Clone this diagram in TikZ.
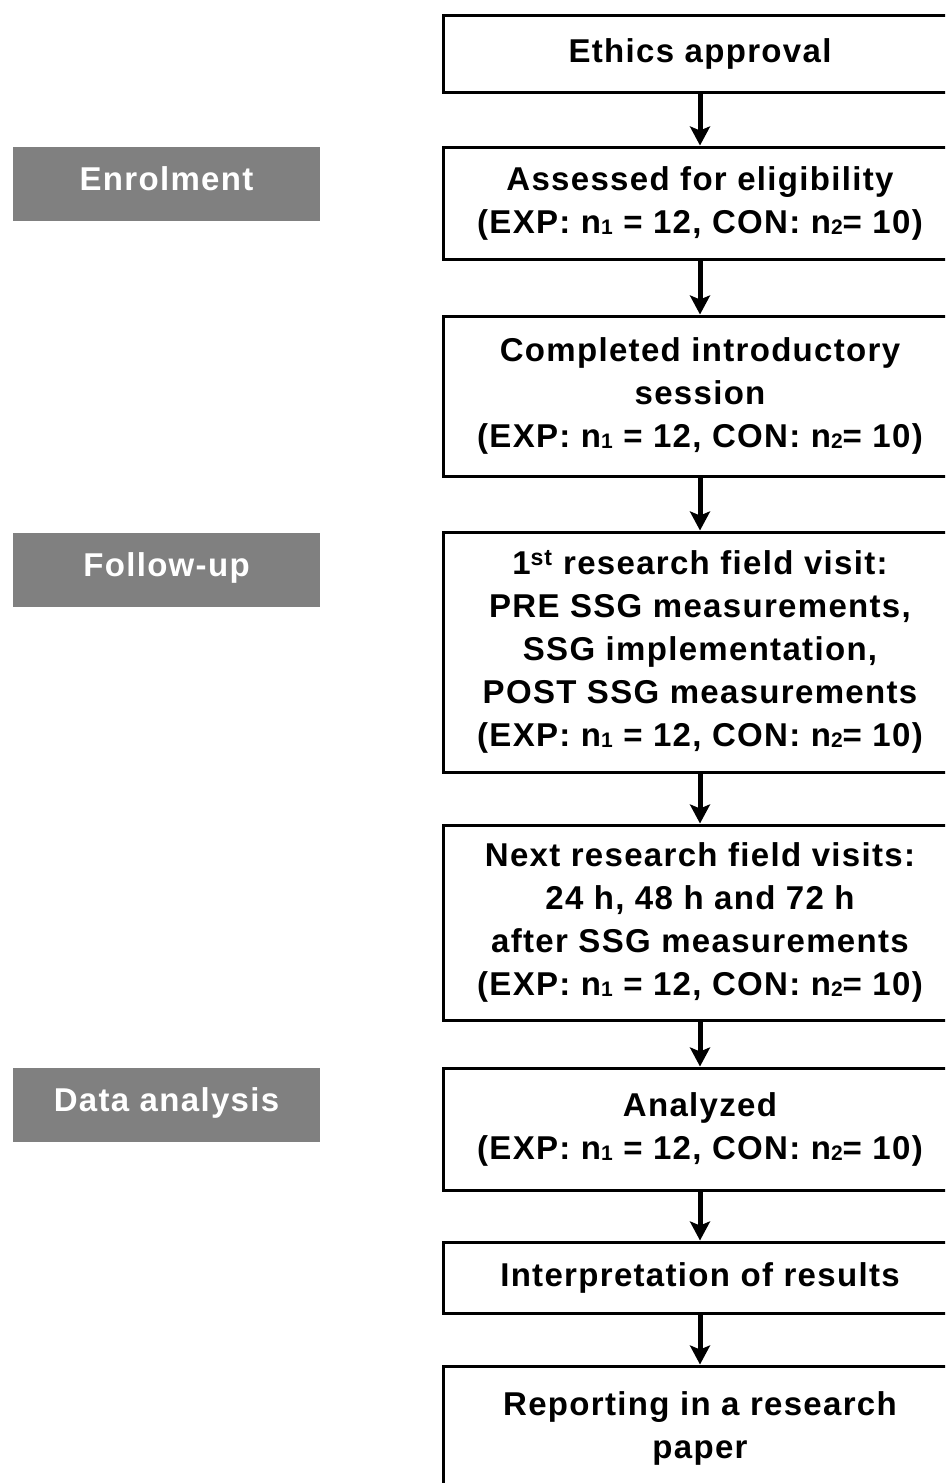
\documentclass[tikz,border=0pt]{standalone}
\usepackage{fontspec}
\setmainfont{Liberation Sans}[LetterSpace=4]
\usetikzlibrary{arrows.meta}

% small group index after n
\newcommand{\grp}[1]{\raisebox{-1pt}{\fontsize{21}{21}\selectfont #1}}

\tikzset{
  flow/.style={
    draw=black, line width=3pt, fill=white,
    align=center, minimum width=514pt, inner sep=0pt
  },
  phase/.style={
    fill=black!50, text=white, minimum width=307pt, minimum height=74pt,
    text height=24pt, text depth=12pt
  },
  arr/.style={-{Stealth[length=19pt,width=20pt,inset=4pt]}, line width=5pt},
}

\begin{document}
\begin{tikzpicture}[x=1pt, y=-1pt, font=\fontsize{33}{43}\selectfont\bfseries]
    \clip (0,0) rectangle (945,1483);
    \fill[white] (0,0) rectangle (945,1483);

    % Phases
    \node[phase] (enrol) at (166.5,184) {Enrolment};
    \node[phase] (follow) at (166.5,570) {Follow-up};
    \node[phase] (data) at (166.5,1105) {Data analysis};

    % Flow boxes
    \node[flow, minimum height=77pt] (ethics) at (700,53.5)
      {Ethics approval};

    \node[flow, minimum height=112pt] (assess) at (700,203)
      {Assessed for eligibility\\
       (EXP: n\grp{1} = 12, CON: n\grp{2}= 10)};

    \node[flow, minimum height=160pt] (intro) at (700,396)
      {Completed introductory\\ session\\
       (EXP: n\grp{1} = 12, CON: n\grp{2}= 10)};

    \node[flow, minimum height=240pt] (visit) at (700,652)
      {1\textsuperscript{st} research field visit:\\
       PRE SSG measurements,\\ SSG implementation,\\
       POST SSG measurements\\
       (EXP: n\grp{1} = 12, CON: n\grp{2}= 10)};

    \node[flow, minimum height=195pt] (next) at (700,922.5)
      {Next research field visits:\\ 24 h, 48 h and 72 h\\
       after SSG measurements\\
       (EXP: n\grp{1} = 12, CON: n\grp{2}= 10)};

    \node[flow, minimum height=122pt] (analysed) at (700,1129)
      {Analyzed\\
       (EXP: n\grp{1} = 12, CON: n\grp{2}= 10)};

    \node[flow, minimum height=71pt] (interp) at (700,1277.5)
      {Interpretation of results};

    \node[flow, minimum height=124pt] (report) at (700,1428)
      {Reporting in a research\\ paper};

    % Arrows
    \draw[arr] (ethics.south) -- (assess.north);
    \draw[arr] (assess.south) -- (intro.north);
    \draw[arr] (intro.south) -- (visit.north);
    \draw[arr] (visit.south) -- (next.north);
    \draw[arr] (next.south) -- (analysed.north);
    \draw[arr] (analysed.south) -- (interp.north);
    \draw[arr] (interp.south) -- (report.north);
\end{tikzpicture}
\end{document}
